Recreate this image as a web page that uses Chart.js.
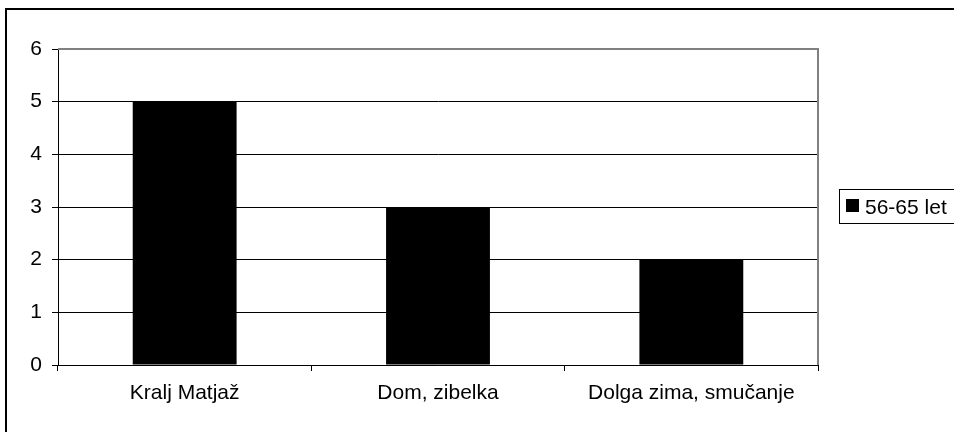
<!DOCTYPE html>
<html>
<head>
<meta charset="utf-8">
<script src="https://cdn.jsdelivr.net/npm/chart.js@4/dist/chart.umd.min.js"></script>
<style>
  html, body { margin: 0; padding: 0; background: #fff; }
  #wrap { width: 954px; height: 432px; }
</style>
</head>
<body>
<div id="wrap"><canvas id="chart" width="954" height="432"></canvas></div>
<script>
// Categories and values
const categories = ['Kralj Matjaž', 'Dom, zibelka', 'Dolga zima, smučanje'];
const seriesLabel = '56-65 let';
const seriesValues = [5, 3, 2];
const yMin = 0;
const yMax = 6;

const fontFamily = '"Liberation Sans", Arial, sans-serif';
const fontSize = 21;

// Outer frame, grey plot border and the boxed legend on the right
const framePlugin = {
  id: 'frame',
  beforeDraw(chart) {
    const ctx = chart.ctx;
    ctx.save();
    ctx.fillStyle = '#fff';
    ctx.fillRect(0, 0, chart.width, chart.height);
    ctx.strokeStyle = '#000';
    ctx.lineWidth = 2;
    ctx.beginPath();
    ctx.moveTo(6, chart.height + 5);
    ctx.lineTo(6, 9);
    ctx.lineTo(chart.width + 5, 9);
    ctx.stroke();
    ctx.restore();
  },
  afterDraw(chart) {
    const ctx = chart.ctx;
    const area = chart.chartArea;
    ctx.save();
    // plot border top + right
    ctx.strokeStyle = '#808080';
    ctx.lineWidth = 2;
    ctx.beginPath();
    ctx.moveTo(area.left, area.top);
    ctx.lineTo(area.right, area.top);
    ctx.lineTo(area.right, area.bottom);
    ctx.stroke();

    // legend
    ctx.strokeStyle = '#000';
    ctx.lineWidth = 1;
    ctx.fillStyle = '#fff';
    ctx.fillRect(839.5, 189.5, 130, 34);
    ctx.strokeRect(839.5, 189.5, 130, 34);
    ctx.fillStyle = '#000';
    ctx.fillRect(846, 199, 13, 13);
    ctx.font = fontSize + 'px ' + fontFamily;
    ctx.textBaseline = 'alphabetic';
    ctx.fillText(chart.data.datasets[0].label, 865, 214);
    ctx.restore();
  }
};

new Chart(document.getElementById('chart'), {
  type: 'bar',
  data: {
    labels: categories,
    datasets: [{
      label: seriesLabel,
      data: seriesValues,
      backgroundColor: '#000',
      borderWidth: 0,
      barPercentage: 0.41,
      categoryPercentage: 1.0
    }]
  },
  options: {
    responsive: false,
    animation: false,
    devicePixelRatio: 1,
    layout: { padding: { top: 49, right: 136, left: 0, bottom: 0 } },
    plugins: {
      legend: { display: false },
      tooltip: { enabled: false }
    },
    scales: {
      x: {
        afterFit(scale) { scale.height = 67; },
        grid: {
          drawOnChartArea: false,
          drawTicks: true,
          tickLength: 6,
          color: '#000',
          offset: true
        },
        border: { color: '#000', width: 1 },
        ticks: {
          color: '#000',
          padding: 10,
          maxRotation: 0,
          font: { family: fontFamily, size: fontSize }
        }
      },
      y: {
        min: yMin,
        max: yMax,
        afterFit(scale) { scale.width = 58; },
        grid: {
          color: (c) => (c.tick && c.tick.value === yMax ? 'rgba(0,0,0,0)' : '#000'),
          tickColor: '#000',
          tickLength: 6,
          lineWidth: 1
        },
        border: { color: '#000', width: 1 },
        ticks: {
          stepSize: 1,
          color: '#000',
          padding: 10,
          font: { family: fontFamily, size: fontSize }
        }
      }
    }
  },
  plugins: [framePlugin]
});
</script>
</body>
</html>
